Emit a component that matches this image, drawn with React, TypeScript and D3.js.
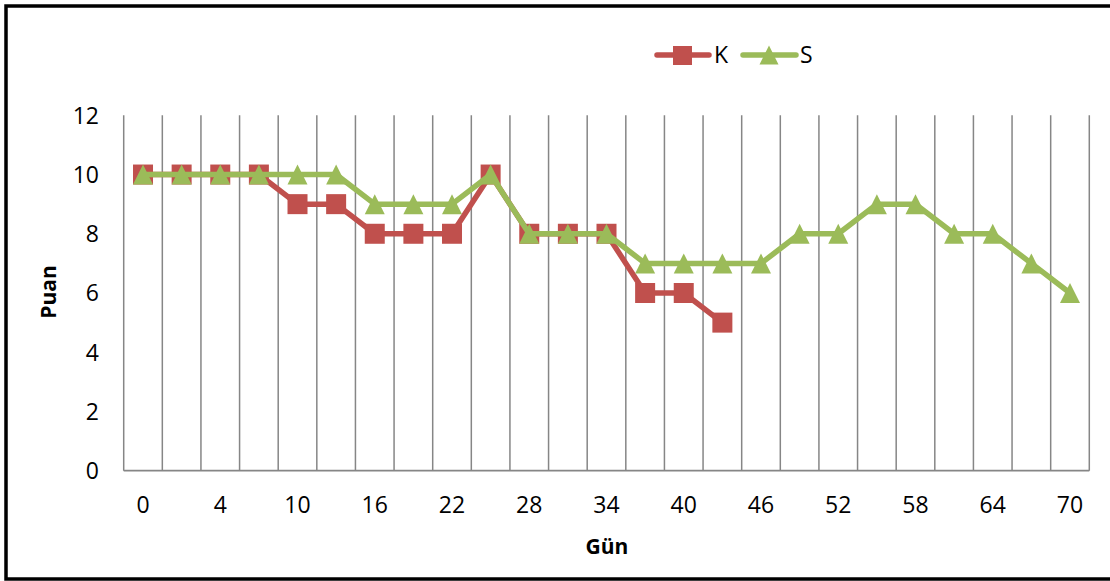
import React from "react";
import * as d3 from "d3";

// Days of observation (only every other one gets a label)
const days = [0, 2, 4, 7, 10, 13, 16, 19, 22, 25, 28, 31, 34, 37, 40, 43, 46, 49, 52, 55, 58, 61, 64, 67, 70];
const seriesK = [10, 10, 10, 10, 9, 9, 8, 8, 8, 10, 8, 8, 8, 6, 6, 5];
const seriesS = [10, 10, 10, 10, 10, 10, 9, 9, 9, 10, 8, 8, 8, 7, 7, 7, 7, 8, 8, 9, 9, 8, 8, 7, 6];
const yTicks = [0, 2, 4, 6, 8, 10, 12];

const W = 1110;
const H = 581;
const RED = "#C0504D";
const GREEN = "#9BBB59";
const GRID = "#868686";
const FONT = "'Open Sans', 'Liberation Sans', sans-serif";

export default function App() {
  const x = d3.scaleBand<number>().domain(d3.range(days.length)).range([123.7, 1089.3]).padding(0);
  const y = d3.scaleLinear().domain([0, 12]).range([470.7, 115.3]);
  const cx = (i: number) => (x(i) as number) + x.bandwidth() / 2;

  const line = d3
    .line<number>()
    .x((_, i) => cx(i))
    .y((d) => y(d));

  const tri = (px: number, py: number, s = 20) =>
    `M${px},${py - s / 2}L${px + s / 2},${py + s / 2}L${px - s / 2},${py + s / 2}Z`;

  const boundaries = d3.range(days.length + 1).map((i) => 123.7 + i * x.bandwidth());

  return (
    <svg width={W} height={H} style={{ position: "absolute", left: 0, top: 0, background: "#fff" }} fontFamily={FONT}>
      <rect x={0} y={0} width={W} height={H} fill="#fff" />
      {/* chart frame */}
      <rect x={6} y={6} width={W + 20} height={573} fill="none" stroke="#000" strokeWidth={3.5} />

      {/* vertical gridlines between categories */}
      {boundaries.map((bx, i) => (
        <line key={i} x1={bx} x2={bx} y1={y(12)} y2={y(0)} stroke={GRID} strokeWidth={1.5} />
      ))}
      {/* category axis */}
      <line x1={boundaries[0]} x2={boundaries[boundaries.length - 1]} y1={y(0)} y2={y(0)} stroke={GRID} strokeWidth={1.7} />

      {/* value axis labels */}
      {yTicks.map((t) => (
        <text key={t} x={99} y={y(t)} dy="0.36em" textAnchor="end" fontSize={23} fill="#000">
          {t}
        </text>
      ))}
      {/* category labels */}
      {days.map((d, i) =>
        i % 2 === 0 ? (
          <text key={i} x={cx(i)} y={505} dy="0.36em" textAnchor="middle" fontSize={23} fill="#000">
            {d}
          </text>
        ) : null
      )}

      {/* axis titles */}
      <text
        transform={`translate(56,292) rotate(-90)`}
        textAnchor="middle"
        fontSize={21}
        fontWeight="bold"
        fill="#000"
      >
        Puan
      </text>
      <text x={607} y={554} textAnchor="middle" fontSize={21} fontWeight="bold" fill="#000">
        Gün
      </text>

      {/* series K */}
      <path d={line(seriesK) ?? ""} fill="none" stroke={RED} strokeWidth={5.5} strokeLinejoin="round" strokeLinecap="round" />
      {seriesK.map((v, i) => (
        <rect key={i} x={cx(i) - 10} y={y(v) - 10} width={20} height={20} fill={RED} />
      ))}

      {/* series S */}
      <path d={line(seriesS) ?? ""} fill="none" stroke={GREEN} strokeWidth={5.5} strokeLinejoin="round" strokeLinecap="round" />
      {seriesS.map((v, i) => (
        <path key={i} d={tri(cx(i), y(v))} fill={GREEN} />
      ))}

      {/* legend */}
      <line x1={657} x2={709} y1={55} y2={55} stroke={RED} strokeWidth={5.5} strokeLinecap="round" />
      <rect x={673} y={46} width={19} height={19} fill={RED} />
      <text x={714} y={55} dy="0.36em" fontSize={23} fill="#000">
        K
      </text>
      <line x1={743} x2={796} y1={55} y2={55} stroke={GREEN} strokeWidth={5.5} strokeLinecap="round" />
      <path d={tri(769, 55, 19)} fill={GREEN} />
      <text x={800} y={55} dy="0.36em" fontSize={23} fill="#000">
        S
      </text>
    </svg>
  );
}
